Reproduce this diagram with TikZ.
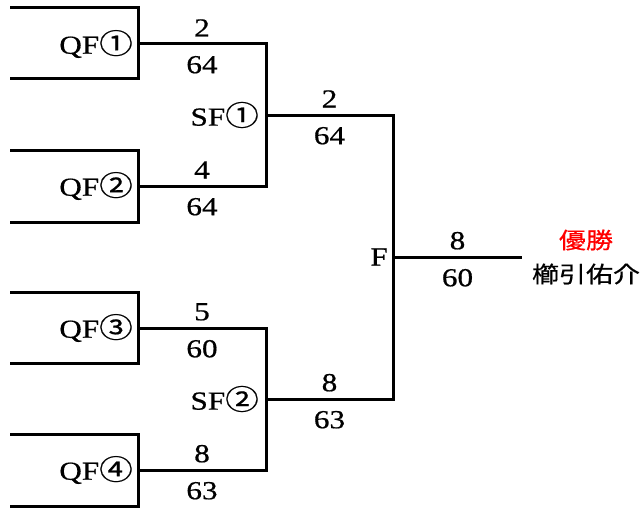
\documentclass[tikz,border=0pt]{standalone}
\usepackage{fontspec}
\setmainfont{Liberation Serif}[FakeStretch=1.2, FakeBold=0.6]
\newfontfamily\cjk{Noto Sans CJK JP}[FakeStretch=1.2, FakeBold=0.6]
\usetikzlibrary{positioning}
\newcommand{\maru}[1]{{\cjk\fontsize{28}{28}\selectfont #1}}

\begin{document}
\begin{tikzpicture}[
    x=1pt, y=-1pt,
    line/.style={line width=3pt},
    game/.style={
        anchor=east,
        inner sep=0pt,
        font=\fontsize{26}{26}\selectfont,
    },
    up/.style={anchor=south, inner sep=0pt, yshift=6pt, font=\fontsize{26}{26}\selectfont},
    dn/.style={anchor=north, inner sep=0pt, yshift=-10.5pt, font=\fontsize{26}{26}\selectfont},
    champ/.style={inner sep=0pt, font=\cjk\fontsize{22.5}{22.5}\selectfont},
]

\useasboundingbox (0,0) rectangle (643,511);

% open boxes of the quarter-finals
\foreach \top/\bot in {8/79, 150/222, 292/363, 434/506}
    \draw[line] (10,\top) -| (138,\bot) -- (10,\bot);

\coordinate (q1) at (138,44);
\coordinate (q2) at (138,186);
\coordinate (q3) at (138,328);
\coordinate (q4) at (138,470);
\coordinate (s1) at (266,115);
\coordinate (s2) at (266,399);
\coordinate (f)  at (393,257);
\coordinate (w)  at (522,257);

\node[game] (qf1) at (133,44)  {QF\maru{①}};
\node[game] (qf2) at (133,186) {QF\maru{②}};
\node[game] (qf3) at (133,328) {QF\maru{③}};
\node[game] (qf4) at (133,470) {QF\maru{④}};
\node[game] (sf1) at (259,115) {SF\maru{①}};
\node[game] (sf2) at (259,399) {SF\maru{②}};
\node[game] (fin) at (388,257) {F};

\draw[line] (q1) -- node[up]{2} node[dn]{64} (q1 -| s1) -- (s1);
\draw[line] (q2) -- node[up]{4} node[dn]{64} (q2 -| s1) -- (s1);
\draw[line] (q3) -- node[up]{5} node[dn]{60} (q3 -| s2) -- (s2);
\draw[line] (q4) -- node[up]{8} node[dn]{63} (q4 -| s2) -- (s2);

\draw[line] (s1) -- node[up]{2} node[dn]{64} (s1 -| f) -- (f);
\draw[line] (s2) -- node[up]{8} node[dn]{63} (s2 -| f) -- (f);

\draw[line] (f) -- node[up]{8} node[dn]{60} (w);

\node[champ, text=red] (yusho) at (586,240) {優勝};
\node[champ] (name) at (586,274) {櫛引佑介};

\end{tikzpicture}
\end{document}
